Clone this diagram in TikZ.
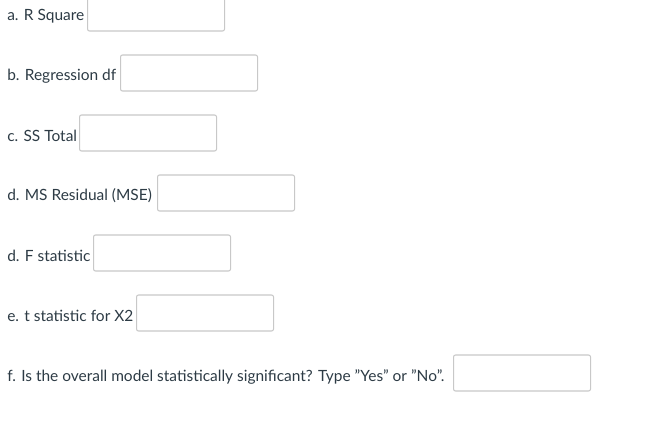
\documentclass[tikz,border=0pt]{standalone}
\usepackage{fontspec}
\setmainfont{Lato}
\usetikzlibrary{positioning}
\definecolor{boxline}{RGB}{200,200,200}
\definecolor{labeltext}{RGB}{45,59,69}
\newcommand{\dq}{\symbol{34}}
\tikzset{
  qlabel/.style={anchor=west,inner sep=0.75pt,text=labeltext,font=\fontsize{11.6}{14}\selectfont},
  answerbox/.style={draw=boxline,line width=0.8pt,rounded corners=1.5pt,minimum width=102.75pt,minimum height=27pt,inner sep=0pt}
}
\begin{document}
\begin{tikzpicture}[x=0.75pt,y=0.75pt,yscale=-1,xscale=1]
\useasboundingbox (0,0) rectangle (646,435);

% questions
\node[qlabel] (qa) at (6,16) {a. R Square};
\node[qlabel] (qb) at (6,76) {b. Regression df};
\node[qlabel] (qc) at (6,136) {c. SS Total};
\node[qlabel] (qd) at (6,196) {d. MS Residual (MSE)};
\node[qlabel] (qe) at (6,256) {d. F statistic};
\node[qlabel] (qf) at (6,316) {e. t statistic for X2};
\node[qlabel] (qg) at (6,377) {f. Is the overall model statistically significant? Type \dq Yes\dq{} or \dq No\dq.};

% answer boxes
\node[answerbox,anchor=west] (ba) at (87,13) {};
\node[answerbox,anchor=west] (bb) at (120,73) {};
\node[answerbox,anchor=west] (bc) at (79,133) {};
\node[answerbox,anchor=west] (bd) at (157,193) {};
\node[answerbox,anchor=west] (be) at (93,253) {};
\node[answerbox,anchor=west] (bf) at (136,313) {};
\node[answerbox,anchor=west] (bg) at (453,373) {};

\end{tikzpicture}
\end{document}
